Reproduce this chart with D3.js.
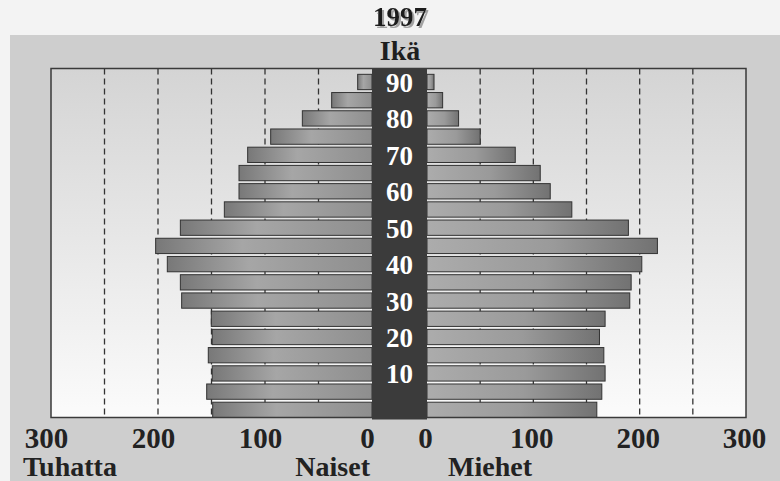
<!DOCTYPE html>
<html><head><meta charset="utf-8">
<script src="https://cdn.jsdelivr.net/npm/d3@7"></script>
<style>
body{margin:0;background:#f3f3f3}
svg{display:block}
text{font-family:"Liberation Serif","Times New Roman",serif;font-weight:bold}
</style>
</head><body>
<svg id="chart" width="780" height="481"></svg>
<script>
// Finland's population by five-year age group, 1997 (thousands)
const ageGroups = ["0-4","5-9","10-14","15-19","20-24","25-29","30-34","35-39","40-44","45-49",
                   "50-54","55-59","60-64","65-69","70-74","75-79","80-84","85-89","90+"];
const ageLabels = ["","","10","","20","","30","","40","","50","","60","","70","","80","","90"];
const women = [148.9,154.5,149.3,153.0,149.3,150.2,177.9,179.1,191.3,202.2,179.1,138.0,124.3,124.3,116.2,94.7,65.1,37.7,13.4];
const men   = [159.7,164.4,167.5,166.3,162.2,167.5,190.7,192.0,202.0,216.7,189.4,136.2,115.9,106.5,83.0,50.0,29.7,14.7,6.6];
const axisTicks = [0,100,200,300];
const gridValues = [50,100,150,200,250];

const svg = d3.select("#chart");
const plotTop = 68.5, plotBottom = 417.5;

const xL = d3.scaleLinear().domain([0,300]).range([372,51]);
const xR = d3.scaleLinear().domain([0,300]).range([427,746]);
const y = d3.scaleBand().domain(ageGroups.slice().reverse())
  .range([plotTop,plotBottom]).paddingInner(0.16).paddingOuter(0.16).align(1);

const defs = svg.append("defs");
const bgGrad = defs.append("linearGradient").attr("id","plotBg").attr("x1",0).attr("y1",0).attr("x2",0).attr("y2",1);
bgGrad.append("stop").attr("offset","0%").attr("stop-color","#d4d4d4");
bgGrad.append("stop").attr("offset","100%").attr("stop-color","#fbfbfb");

const gR = defs.append("linearGradient").attr("id","barR").attr("x1",0).attr("y1",0).attr("x2",1).attr("y2",0);
gR.append("stop").attr("offset","0%").attr("stop-color","#acacac");
gR.append("stop").attr("offset","55%").attr("stop-color","#9a9a9a");
gR.append("stop").attr("offset","100%").attr("stop-color","#727272");
const gL = defs.append("linearGradient").attr("id","barL").attr("x1",0).attr("y1",0).attr("x2",1).attr("y2",0);
gL.append("stop").attr("offset","0%").attr("stop-color","#787878");
gL.append("stop").attr("offset","40%").attr("stop-color","#a6a6a6");
gL.append("stop").attr("offset","100%").attr("stop-color","#8e8e8e");

// soft drop shadow for the year heading
defs.append("filter").attr("id","titleShadow").attr("x","-20%").attr("y","-20%").attr("width","140%").attr("height","140%")
  .append("feDropShadow").attr("dx",2).attr("dy",2).attr("stdDeviation",0.6)
  .attr("flood-color","#999").attr("flood-opacity",0.9);

// page panel
svg.append("rect").attr("x",10).attr("y",35).attr("width",770).attr("height",446).attr("fill","#cecece");

// headings
svg.append("text").attr("x",400).attr("y",26).attr("text-anchor","middle")
  .attr("font-size",27).attr("fill","#1e1e1e").attr("filter","url(#titleShadow)").text("1997");
svg.append("text").attr("x",400).attr("y",60).attr("text-anchor","middle")
  .attr("font-size",28).attr("fill","#1e1e1e").text("Ikä");

// plot background
svg.append("rect").attr("x",xL(300)).attr("y",plotTop).attr("width",xR(300)-xL(300)).attr("height",plotBottom-plotTop)
  .attr("fill","url(#plotBg)");

// dashed gridlines
const grid = svg.append("g").attr("stroke","#333").attr("stroke-width",1.3).attr("stroke-dasharray","6,4");
grid.selectAll("line.l").data(gridValues).join("line").attr("class","l")
  .attr("x1",d=>xL(d)).attr("x2",d=>xL(d)).attr("y1",plotTop).attr("y2",plotBottom);
grid.selectAll("line.r").data(gridValues).join("line").attr("class","r")
  .attr("x1",d=>xR(d)).attr("x2",d=>xR(d)).attr("y1",plotTop).attr("y2",plotBottom);

// bars
svg.append("g").selectAll("rect").data(ageGroups).join("rect")
  .attr("x",(d,i)=>xL(women[i])).attr("y",d=>y(d))
  .attr("width",(d,i)=>xL(0)-xL(women[i])).attr("height",y.bandwidth())
  .attr("fill","url(#barL)").attr("stroke","#333").attr("stroke-width",1);
svg.append("g").selectAll("rect").data(ageGroups).join("rect")
  .attr("x",xR(0)).attr("y",d=>y(d))
  .attr("width",(d,i)=>xR(men[i])-xR(0)).attr("height",y.bandwidth())
  .attr("fill","url(#barR)").attr("stroke","#333").attr("stroke-width",1);

// plot frame
svg.append("rect").attr("x",xL(300)).attr("y",plotTop).attr("width",xR(300)-xL(300)).attr("height",plotBottom-plotTop)
  .attr("fill","none").attr("stroke","#3a3a3a").attr("stroke-width",1.5);

// central age column
svg.append("rect").attr("x",xL(0)).attr("y",plotTop-0.5).attr("width",xR(0)-xL(0)).attr("height",plotBottom-plotTop+2.5)
  .attr("fill","#3b3b3b");
svg.append("g").selectAll("text").data(ageGroups.filter((d,i)=>ageLabels[i]!=="")).join("text")
  .attr("x",(xL(0)+xR(0))/2).attr("y",d=>y(d)+y.bandwidth()/2+10)
  .attr("text-anchor","middle").attr("font-size",27).attr("fill","#fff")
  .text(d=>ageLabels[ageGroups.indexOf(d)]);

// value axes
function styleAxis(g, dx){
  g.select(".domain").remove();
  g.selectAll(".tick line").remove();
  g.selectAll(".tick text").attr("y",0).attr("dy",0).attr("dx",dx)
    .attr("font-size",29).attr("fill","#222")
    .attr("font-family","'Liberation Serif','Times New Roman',serif").attr("font-weight","bold");
}
svg.append("g").attr("transform","translate(0,448)")
  .call(d3.axisBottom(xL).tickValues(axisTicks).tickSize(0).tickPadding(0).tickFormat(d3.format("d")))
  .call(g=>styleAxis(g,-5));
svg.append("g").attr("transform","translate(0,448)")
  .call(d3.axisBottom(xR).tickValues(axisTicks).tickSize(0).tickPadding(0).tickFormat(d3.format("d")))
  .call(g=>styleAxis(g,-2));

// axis captions
svg.append("text").attr("x",23).attr("y",476).attr("font-size",28).attr("fill","#222").text("Tuhatta");
svg.append("text").attr("x",370).attr("y",476).attr("text-anchor","end").attr("font-size",28).attr("fill","#222").text("Naiset");
svg.append("text").attr("x",448).attr("y",476).attr("font-size",28).attr("fill","#222").text("Miehet");
</script>
</body></html>
